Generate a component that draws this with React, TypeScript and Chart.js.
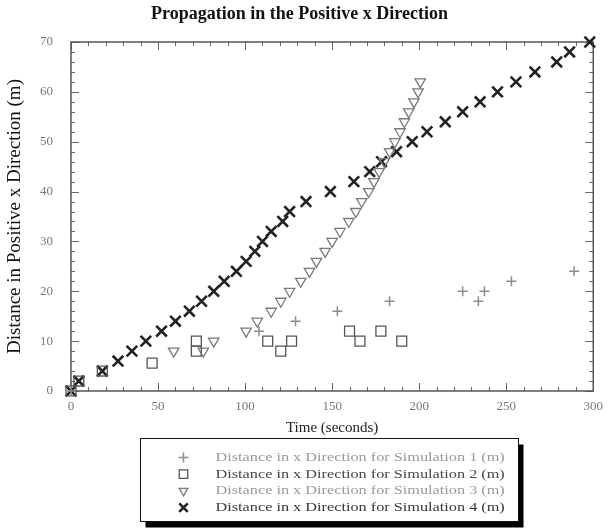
import React, { useEffect, useRef } from 'react';
import { Chart, registerables } from 'chart.js';
import { drawPoint } from 'chart.js/helpers';

Chart.register(...registerables);

const TITLE = 'Propagation in the Positive x Direction';
const X_TITLE = 'Time (seconds)';
const Y_TITLE = 'Distance in Positive x Direction (m)';

const seriesLabels = [
  'Distance in x Direction for Simulation 1 (m)',
  'Distance in x Direction for Simulation 2 (m)',
  'Distance in x Direction for Simulation 3 (m)',
  'Distance in x Direction for Simulation 4 (m)',
];

const sim1Time = [0, 108, 129, 153, 183, 225, 234, 237.5, 253, 289];
const sim1Dist = [0, 12, 14, 16, 18, 20, 18, 20, 22, 24];

const sim2Time = [0, 4.5, 18, 46.6, 72, 72, 113, 120.5, 126.7, 160, 166, 178, 190];
const sim2Dist = [0, 2, 4, 5.6, 8, 10, 10, 8, 10, 12, 10, 12, 10];

const sim3Time = [59, 76, 82, 100.6, 107, 115, 120.5, 125.6, 132, 137, 141, 146, 150, 154.5, 159.6, 163.6, 167, 171, 174, 177, 180, 183, 186, 189, 191.5, 194, 197, 199.4, 200.6];
const sim3Dist = [8, 8, 10, 12, 14, 16, 18, 20, 22, 24, 26, 28, 30, 32, 34, 36, 38, 40, 42, 44, 46, 48, 50, 52, 54, 56, 58, 60, 62];

const sim4Time = [0, 4.5, 18, 27, 35, 43, 52, 60, 68, 75, 82, 88, 95, 100.6, 105.6, 110, 115, 121.6, 125.6, 135, 149, 162.5, 171.6, 178.4, 187, 196, 204.5, 215, 225, 235, 245, 255.6, 266.5, 279, 286.4, 298];
const sim4Dist = [0, 2, 4, 6, 8, 10, 12, 14, 16, 18, 20, 22, 24, 26, 28, 30, 32, 34, 36, 38, 40, 42, 44, 46, 48, 50, 52, 54, 56, 58, 60, 62, 64, 66, 68, 70];

const xMin = 0, xMax = 300, xMajor = 50, xMinor = 10;
const yMin = 0, yMax = 70, yMajor = 10, yMinor = 2;

const SERIF = "'Liberation Serif', 'Times New Roman', serif";

const toPoints = (xs: number[], ys: number[]) => xs.map((x, i) => ({ x, y: ys[i] }));

const markerStyles = [
  { pointStyle: 'cross', rotation: 0, radius: 5, color: '#8c8c8c', width: 1.5, text: '#9a9a9a', legendRadius: 5 },
  { pointStyle: 'rect', rotation: 0, radius: 7, color: '#555555', width: 1.3, text: '#484848', legendRadius: 6 },
  { pointStyle: 'triangle', rotation: 180, radius: 6, color: '#7a7a7a', width: 1.3, text: '#9a9a9a', legendRadius: 5 },
  { pointStyle: 'crossRot', rotation: 0, radius: 7.5, color: '#222222', width: 2.6, text: '#383838', legendRadius: 6 },
];

const framePlugin = {
  id: 'frameTicks',
  beforeDatasetsDraw(chart: any) {
    const { ctx, chartArea, scales } = chart;
    const { left, right, top, bottom } = chartArea;
    const x = scales.x, y = scales.y;
    ctx.save();
    ctx.strokeStyle = '#666';
    ctx.lineWidth = 1;
    for (let v = xMin; v <= xMax + 1e-9; v += xMinor) {
      const px = Math.round(x.getPixelForValue(v)) + 0.5;
      const len = v % xMajor === 0 ? 8 : 4;
      ctx.beginPath();
      ctx.moveTo(px, bottom); ctx.lineTo(px, bottom - len);
      ctx.moveTo(px, top); ctx.lineTo(px, top + len);
      ctx.stroke();
    }
    for (let v = yMin; v <= yMax + 1e-9; v += yMinor) {
      const py = Math.round(y.getPixelForValue(v)) + 0.5;
      const len = v % yMajor === 0 ? 8 : 4;
      ctx.beginPath();
      ctx.moveTo(left, py); ctx.lineTo(left + len, py);
      ctx.moveTo(right, py); ctx.lineTo(right - len, py);
      ctx.stroke();
    }
    ctx.strokeStyle = '#555';
    ctx.lineWidth = 1.5;
    ctx.strokeRect(left, top, right - left, bottom - top);
    ctx.restore();
  },
};

const legendPlugin = {
  id: 'boxLegend',
  afterDraw(chart: any) {
    const { ctx, chartArea } = chart;
    const cx = (chartArea.left + chartArea.right) / 2 - 3;
    const w = 378, h = 83;
    const bx = Math.round(cx - w / 2) + 0.5;
    const by = Math.round(chartArea.bottom + 47) + 0.5;
    ctx.save();
    ctx.fillStyle = '#000';
    ctx.fillRect(bx + 5, by + 6, w, h);
    ctx.fillStyle = '#fff';
    ctx.fillRect(bx, by, w, h);
    ctx.strokeStyle = '#111';
    ctx.lineWidth = 1;
    ctx.strokeRect(bx, by, w, h);
    chart.data.datasets.forEach((ds: any, i: number) => {
      const m = markerStyles[i];
      const rowY = by + 19 + i * 16.7;
      ctx.strokeStyle = m.color;
      ctx.fillStyle = 'rgba(0,0,0,0)';
      ctx.lineWidth = m.width;
      drawPoint(ctx, { pointStyle: m.pointStyle as any, rotation: m.rotation, radius: m.legendRadius, borderWidth: m.width }, bx + 43, rowY);
      ctx.save();
      ctx.translate(bx + 75, rowY);
      ctx.scale(1.25, 1);
      ctx.font = `13px ${SERIF}`;
      ctx.fillStyle = m.text;
      ctx.textBaseline = 'middle';
      ctx.textAlign = 'left';
      ctx.fillText(ds.label, 0, 0);
      ctx.restore();
    });
    ctx.restore();
  },
};

export default function App() {
  const ref = useRef<HTMLCanvasElement>(null);
  useEffect(() => {
    if (!ref.current) return;
    const series = [
      toPoints(sim1Time, sim1Dist),
      toPoints(sim2Time, sim2Dist),
      toPoints(sim3Time, sim3Dist),
      toPoints(sim4Time, sim4Dist),
    ];
    const chart = new Chart(ref.current, {
      type: 'scatter',
      data: {
        datasets: series.map((data, i) => ({
          label: seriesLabels[i],
          data,
          pointStyle: markerStyles[i].pointStyle as any,
          rotation: markerStyles[i].rotation,
          pointRadius: markerStyles[i].radius,
          pointBorderColor: markerStyles[i].color,
          borderColor: markerStyles[i].color,
          pointBackgroundColor: 'rgba(0,0,0,0)',
          backgroundColor: 'rgba(0,0,0,0)',
          pointBorderWidth: markerStyles[i].width,
          showLine: false,
          clip: false as any,
        })),
      },
      options: {
        responsive: false,
        animation: false,
        events: [],
        layout: { padding: { left: 0, right: 12, top: 0, bottom: 88 } },
        plugins: {
          legend: { display: false },
          tooltip: { enabled: false },
          title: {
            display: true,
            text: TITLE,
            color: '#111',
            font: { family: SERIF, size: 18, weight: 'bold' },
            padding: { top: 4, bottom: 16.4 },
          },
        },
        scales: {
          x: {
            type: 'linear',
            min: xMin,
            max: xMax,
            grid: { display: false, drawTicks: false, tickLength: 0 },
            border: { display: false },
            ticks: {
              stepSize: xMajor,
              color: '#777',
              padding: 8,
              maxRotation: 0,
              font: { family: SERIF, size: 13 },
            },
            title: {
              display: true,
              text: X_TITLE,
              color: '#222',
              font: { family: SERIF, size: 15 },
              padding: { top: 0, bottom: 4 },
            },
            afterFit: (s: any) => { s.height = 50; },
          },
          y: {
            type: 'linear',
            min: yMin,
            max: yMax,
            grid: { display: false, drawTicks: false, tickLength: 0 },
            border: { display: false },
            ticks: {
              stepSize: yMajor,
              color: '#777',
              padding: 18,
              font: { family: SERIF, size: 13 },
            },
            title: {
              display: true,
              text: Y_TITLE,
              color: '#111',
              font: { family: SERIF, size: 19 },
              padding: { top: 4, bottom: 0 },
            },
            afterFit: (s: any) => { s.width = 71; },
          },
        },
      },
      plugins: [framePlugin, legendPlugin],
    });
    return () => chart.destroy();
  }, []);
  return (
    <div style={{ position: 'absolute', left: 0, top: 0, width: 611, height: 529, background: '#fff' }}>
      <canvas ref={ref} width={611} height={529} style={{ display: 'block' }} />
    </div>
  );
}
